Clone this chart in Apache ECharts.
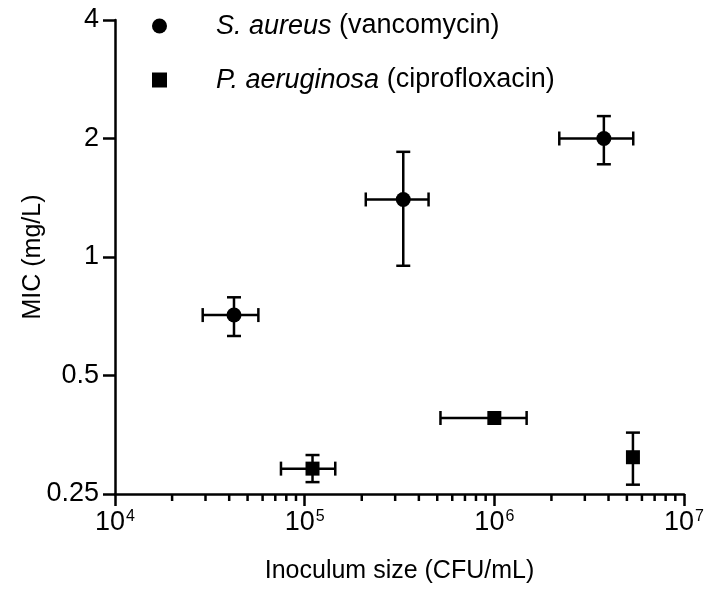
<!DOCTYPE html>
<html>
<head>
<meta charset="utf-8">
<script src="https://cdn.jsdelivr.net/npm/echarts@6/dist/echarts.min.js"></script>
<style>
  html, body { margin: 0; padding: 0; background: #fff; }
  #main { width: 726px; height: 593px; }
</style>
</head>
<body>
<div id="main"></div>
<script>
// series names
let seriesNames = ['S. aureus (vancomycin)', 'P. aeruginosa (ciprofloxacin)'];

// S. aureus: inoculum (CFU/mL), MIC (mg/L), x error range, y error range
let saInoculum = [4.24e4, 3.31e5, 3.78e6];
let saMic = [0.712, 1.40, 2.0];
let saInoculumLow = [2.9e4, 2.1e5, 2.2e6];
let saInoculumHigh = [5.7e4, 4.5e5, 5.4e6];
let saMicLow = [0.63, 0.95, 1.72];
let saMicHigh = [0.79, 1.85, 2.28];

// P. aeruginosa
let paInoculum = [1.10e5, 1.0e6, 5.38e6];
let paMic = [0.29, 0.39, 0.31];
let paInoculumLow = [7.5e4, 5.2e5, 5.38e6];
let paInoculumHigh = [1.45e5, 1.48e6, 5.38e6];
let paMicLow = [0.268, 0.39, 0.264];
let paMicHigh = [0.314, 0.39, 0.358];

// axis ticks
let yTicks = [0.25, 0.5, 1, 2, 4];
let xDecades = [4, 5, 6, 7];

let minorTicks = [];
for (let d = xDecades[0]; d < xDecades[xDecades.length - 1]; d++) {
    for (let m = 2; m <= 9; m++) {
        minorTicks.push([m * Math.pow(10, d)]);
    }
}

function rows(x, y, xl, xh, yl, yh) {
    return x.map((v, i) => [v, y[i], xl[i], xh[i], yl[i], yh[i]]);
}

let saRows = rows(saInoculum, saMic, saInoculumLow, saInoculumHigh, saMicLow, saMicHigh);
let paRows = rows(paInoculum, paMic, paInoculumLow, paInoculumHigh, paMicLow, paMicHigh);

function errorBars(params, api) {
    let x = api.value(0), y = api.value(1);
    let xl = api.value(2), xh = api.value(3), yl = api.value(4), yh = api.value(5);
    let style = { stroke: '#000', lineWidth: 2.5 };
    let cap = 7;
    let children = [];
    if (xh > xl) {
        let a = api.coord([xl, y]), b = api.coord([xh, y]);
        children.push({ type: 'line', shape: { x1: a[0], y1: a[1], x2: b[0], y2: b[1] }, style: style });
        children.push({ type: 'line', shape: { x1: a[0], y1: a[1] - cap, x2: a[0], y2: a[1] + cap }, style: style });
        children.push({ type: 'line', shape: { x1: b[0], y1: b[1] - cap, x2: b[0], y2: b[1] + cap }, style: style });
    }
    if (yh > yl) {
        let a = api.coord([x, yl]), b = api.coord([x, yh]);
        children.push({ type: 'line', shape: { x1: a[0], y1: a[1], x2: b[0], y2: b[1] }, style: style });
        children.push({ type: 'line', shape: { x1: a[0] - cap, y1: a[1], x2: a[0] + cap, y2: a[1] }, style: style });
        children.push({ type: 'line', shape: { x1: b[0] - cap, y1: b[1], x2: b[0] + cap, y2: b[1] }, style: style });
    }
    return { type: 'group', children: children };
}

let myChart = echarts.init(document.getElementById('main'));

let font = 'Arial, "Liberation Sans", sans-serif';

let option = {
    animation: false,
    textStyle: { fontFamily: font },
    grid: { left: 115, right: 42, top: 20, bottom: 99 },
    legend: {
        orient: 'vertical',
        left: 152,
        top: 10,
        padding: 0,
        itemGap: 22,
        itemWidth: 15,
        itemHeight: 15,
        data: [
            { name: seriesNames[0], icon: 'circle' },
            { name: seriesNames[1], icon: 'rect' }
        ],
        formatter: function (name) {
            let i = name.indexOf(' (');
            return '{sp|}{it|' + name.slice(0, i) + '}{rg|' + name.slice(i) + '}';
        },
        textStyle: {
            color: '#000',
            fontSize: 27,
            lineHeight: 32,
            rich: {
                sp: { width: 44 },
                it: { fontStyle: 'italic', fontSize: 27, color: '#000', fontFamily: font },
                rg: { fontSize: 27, color: '#000', fontFamily: font }
            }
        }
    },
    xAxis: {
        type: 'log',
        logBase: 10,
        min: 1e4,
        max: 1e7,
        name: 'Inoculum size (CFU/mL)',
        nameLocation: 'middle',
        nameGap: 65,
        nameMoveOverlap: false,
        nameTextStyle: { color: '#000', fontSize: 25, fontFamily: font },
        splitLine: { show: false },
        axisLine: { lineStyle: { color: '#000', width: 2.5 } },
        axisTick: { length: 12, lineStyle: { color: '#000', width: 2.5 } },
        axisLabel: {
            margin: 15,
            color: '#000',
            formatter: function (v) {
                return '{b|10}{s|' + Math.round(Math.log10(v)) + '}';
            },
            rich: {
                b: { fontSize: 27, color: '#000', fontFamily: font },
                s: { fontSize: 16, color: '#000', fontFamily: font, verticalAlign: 'top', padding: [0, 0, 12, 1] }
            }
        }
    },
    yAxis: {
        type: 'log',
        logBase: 2,
        min: yTicks[0],
        max: yTicks[yTicks.length - 1],
        name: 'MIC (mg/L)',
        nameLocation: 'middle',
        nameGap: 69,
        nameMoveOverlap: false,
        nameTextStyle: { color: '#000', fontSize: 25, fontFamily: font },
        splitLine: { show: false },
        axisLine: { lineStyle: { color: '#000', width: 2.5 } },
        axisTick: { length: 12, lineStyle: { color: '#000', width: 2.5 } },
        axisLabel: {
            margin: 16,
            color: '#000',
            fontSize: 27,
            formatter: function (v) { return String(v); }
        }
    },
    series: [
        {
            name: 'minor',
            type: 'custom',
            silent: true,
            clip: false,
            data: minorTicks,
            renderItem: function (params, api) {
                let p = api.coord([api.value(0), yTicks[0]]);
                return {
                    type: 'line',
                    shape: { x1: p[0], y1: p[1], x2: p[0], y2: p[1] + 7 },
                    style: { stroke: '#000', lineWidth: 2.5 }
                };
            }
        },
        {
            name: 'saErr',
            type: 'custom',
            silent: true,
            data: saRows,
            renderItem: errorBars
        },
        {
            name: 'paErr',
            type: 'custom',
            silent: true,
            data: paRows,
            renderItem: errorBars
        },
        {
            name: seriesNames[0],
            type: 'scatter',
            symbol: 'circle',
            symbolSize: 15,
            itemStyle: { color: '#000', opacity: 1 },
            data: saRows.map(r => [r[0], r[1]]),
            z: 5
        },
        {
            name: seriesNames[1],
            type: 'scatter',
            symbol: 'rect',
            symbolSize: 14,
            itemStyle: { color: '#000', opacity: 1 },
            data: paRows.map(r => [r[0], r[1]]),
            z: 5
        }
    ]
};

myChart.setOption(option);
</script>
</body>
</html>
